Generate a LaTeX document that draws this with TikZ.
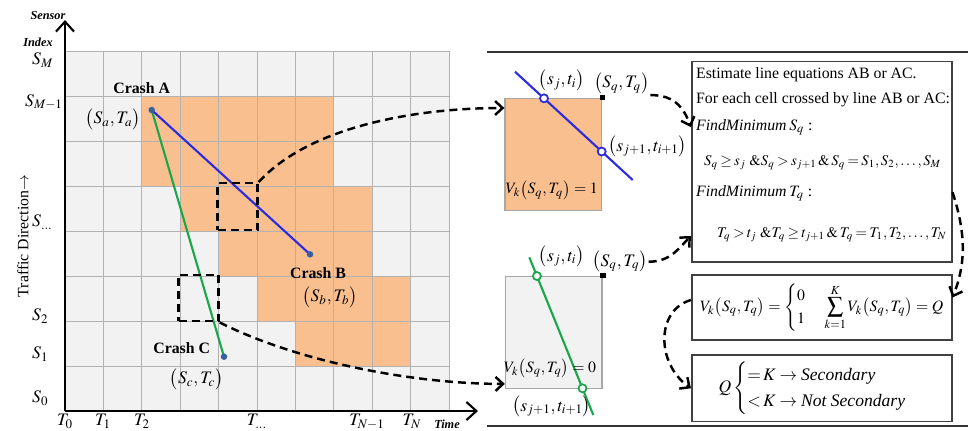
\documentclass[tikz,border=0pt]{standalone}
\usepackage{amsmath, amssymb}
\usepackage{mathptmx}
\usepackage[no-math]{fontspec}
\setmainfont{Liberation Serif}
\usepackage{tikz}
\usetikzlibrary{arrows.meta, calc}
\definecolor{mOrange}{HTML}{FABF8F}
\definecolor{mGrey}{HTML}{F2F2F2}
\definecolor{mBlue}{HTML}{2B2BE0}
\definecolor{mGreen}{HTML}{1AA64A}
\definecolor{mDot}{HTML}{3A5FA0}

\begin{document}
\begin{tikzpicture}[x=0.2mm, y=-0.2mm,
    cell/.style={draw=gray!60, line width=0.5pt},
    txt/.style={inner sep=1pt, font=\fontsize{9}{11}\selectfont},
    mth/.style={inner sep=0.5pt, font=\fontsize{10}{12}\selectfont},
    crash/.style={inner sep=0pt, font=\fontsize{9}{11}\selectfont\bfseries},
    axlbl/.style={inner sep=1pt, font=\fontsize{7}{8}\selectfont\bfseries\itshape},
    dot/.style={circle, fill=mDot, inner sep=0pt, minimum size=1.3mm},
    hole/.style={circle, fill=white, line width=1pt, inner sep=0pt, minimum size=1.6mm},
    corner/.style={fill=black, inner sep=0pt, minimum size=1.1mm},
    zoombox/.style={draw, line width=1.4pt, dash pattern=on 1.6mm off 1mm, minimum width=8mm, minimum height=9.3mm, inner sep=0pt},
    inset/.style={draw=gray!70, line width=0.8pt, minimum width=19.3mm, minimum height=22.4mm, inner sep=0pt},
    stepbox/.style={draw=black!75, line width=0.9pt, minimum width=52mm, inner sep=2pt},
    link/.style={line width=1.4pt, dash pattern=on 1.6mm off 1mm, -{Straight Barb[length=1.5mm, width=2.8mm]}},
    axis/.style={line width=1.2pt, -{Straight Barb[length=2mm, width=3.6mm]}}]
  \useasboundingbox (0,0) rectangle (973,430);

  \foreach \r in {0,...,7}
    \foreach \c in {0,...,9}
      \filldraw[cell, fill=mGrey] ({65+38.4*\c},{51.7+44.9*\r}) rectangle +(38.4,44.9);
  \foreach \r/\a/\b in {1/2/6, 2/2/6, 3/3/7, 4/4/7, 5/5/8, 6/6/8}
    \foreach \c in {\a,...,\b}
      \filldraw[cell, fill=mOrange] ({65+38.4*\c},{51.7+44.9*\r}) rectangle +(38.4,44.9);

  \coordinate (origin) at (65,411);
  \draw[axis] (origin) -- (65,20);
  \draw[axis] (origin) -- (478,411);
  \node[axlbl] (sensor) at (48,15) {Sensor};
  \node[axlbl] (index) at (38,42) {Index};
  \node[axlbl] (time) at (447,424) {Time};
  \foreach \s/\x/\y [count=\i] in {M/31/60, M-1/24/102, \ldots/31/222, 2/31/316, 1/31/354, 0/31/398}
    \node[mth, anchor=west] (s\i) at (\x,\y) {$S_{\s}$};
  \foreach \t/\x [count=\i] in {0/65, 1/103, 2/142, \ldots/257, N-1/367, N/412}
    \node[mth, anchor=north] (t\i) at (\x,413) {$T_{\t}$};
  \node[txt, rotate=90] (traffic) at (23,236) {Traffic Direction$\rightarrow$};

  \coordinate (pA) at (151.7,110);
  \coordinate (pB) at (310,254.3);
  \coordinate (pC) at (224,356.7);
  \draw[mBlue, line width=1.2pt] (pA) -- (pB);
  \draw[mGreen, line width=1.2pt] (pA) -- (pC);
  \node[dot] (dotA) at (pA) {};
  \node[dot] (dotB) at (pB) {};
  \node[dot] (dotC) at (pC) {};
  \node[crash] (crashA) at (141.7,88) {Crash A};
  \node[mth] (posA) at (113,119) {$\bigl(S_a,T_a\bigr)$};
  \node[crash] (crashB) at (318,273) {Crash B};
  \node[mth] (posB) at (330,297) {$\bigl(S_b,T_b\bigr)$};
  \node[crash] (crashC) at (181.7,348) {Crash C};
  \node[mth] (posC) at (196.7,379) {$\bigl(S_c,T_c\bigr)$};
  \node[zoombox] (zoomA) at (237.5,206.5) {};
  \node[zoombox] (zoomC) at (198.5,298) {};

  \draw[line width=1pt, black!80] (487,51.7) -- (968,51.7);
  \draw[line width=1pt, black!80] (487,426) -- (968,426);

  \node[inset, fill=mOrange] (cellAB) at (553.3,154.2) {};
  \draw[mBlue, line width=1.2pt] (515,71.7) -- (632.7,180);
  \node[hole, draw=mBlue] (hAB1) at (544,98.3) {};
  \node[hole, draw=mBlue] (hAB2) at (601.7,151.5) {};
  \node[corner] (qAB) at (cellAB.north east) {};
  \node[mth] (lblSjA) at (561.7,80) {$\bigl(s_j,t_i\bigr)$};
  \node[mth] (lblSqA) at (621.7,83.3) {$\bigl(S_q,T_q\bigr)$};
  \node[mth, anchor=west] (lblSj1A) at (607,146.7) {$\bigl(s_{j+1},t_{i+1}\bigr)$};
  \node[mth, font=\fontsize{9}{11}\selectfont] (lblVA) at (551.7,190) {$V_k\bigl(S_q,T_q\bigr)=1$};

  \node[inset, fill=mGrey] (cellAC) at (553.8,332.2) {};
  \draw[mGreen, line width=1.2pt] (529.3,257.3) -- (593.3,415);
  \node[hole, draw=mGreen] (hAC1) at (536.9,276) {};
  \node[hole, draw=mGreen] (hAC2) at (582.5,388.3) {};
  \node[corner] (qAC) at (cellAC.north east) {};
  \node[mth] (lblSjC) at (561.7,256.7) {$\bigl(s_j,t_i\bigr)$};
  \node[mth] (lblSqC) at (620,261.7) {$\bigl(S_q,T_q\bigr)$};
  \node[mth, font=\fontsize{9}{11}\selectfont] (lblVC) at (550,368.3) {$V_k\bigl(S_q,T_q\bigr)=0$};
  \node[mth] (lblSj1C) at (551.7,406.7) {$\bigl(s_{j+1},t_{i+1}\bigr)$};

  \node[stepbox, minimum height=40mm] (rules) at (821.7,161.7) {};
  \node[txt, anchor=west] (est) at (694,75) {Estimate line equations AB or AC.};
  \node[txt, anchor=west] (each) at (694,100) {For each cell crossed by line AB or AC:};
  \node[txt, anchor=west] (minS) at (694,127) {\textit{FindMinimum}\,$S_q$ :};
  \node[txt, anchor=west, font=\fontsize{8.4}{10}\selectfont] (eqS) at (702,163)
    {$\thickmuskip=3mu \medmuskip=2mu S_q \ge s_j \ \&S_q > s_{j+1} \,\&\, S_q = S_1,S_2,\ldots,S_M$};
  \node[txt, anchor=west] (minT) at (694,193) {\textit{FindMinimum}\,$T_q$ :};
  \node[txt, anchor=west, font=\fontsize{8.4}{10}\selectfont] (eqT) at (715,235)
    {$\thickmuskip=3mu \medmuskip=2mu T_q > t_j \ \&T_q \ge t_{j+1} \,\&\, T_q = T_1,T_2,\ldots,T_N$};
  \node[stepbox, minimum height=13mm, font=\fontsize{9}{11}\selectfont] (vote) at (821.7,307.5)
    {$V_k\bigl(S_q,T_q\bigr)=\begin{cases}0\\1\end{cases}\displaystyle\sum_{k=1}^{K}V_k\bigl(S_q,T_q\bigr)=Q$};
  \node[stepbox, minimum height=13.3mm, font=\fontsize{10}{12}\selectfont] (decide) at (821.7,388.3)
    {$Q\begin{cases}{=}\,K \to \text{\itshape Secondary}\\ {<}\,K \to \text{\itshape Not Secondary}\end{cases}$};

  \draw[link] (zoomA.north east) .. controls +(50,-55) and +(-90,0) .. ([yshift=-2.1mm]cellAB.north west);
  \draw[link] (zoomC.south east) .. controls +(80,40) and +(-90,0) .. ([yshift=1mm]cellAC.south west);
  \draw[link] (lblSqA.south east) .. controls +(22,0) and +(-8,-22) .. ([yshift=6.9mm]rules.west);
  \draw[link] (lblSqC.east) .. controls +(22,0) and +(-12,12) .. ([yshift=5.3mm]rules.south west);
  \draw[link] ([yshift=-6.1mm]rules.east) .. controls +(15,45) and +(12,-30) .. ([yshift=2mm]vote.east);
  \draw[link] ([yshift=1.5mm]vote.west) .. controls +(-35,10) and +(-35,-25) .. (decide.west);
\end{tikzpicture}
\end{document}
